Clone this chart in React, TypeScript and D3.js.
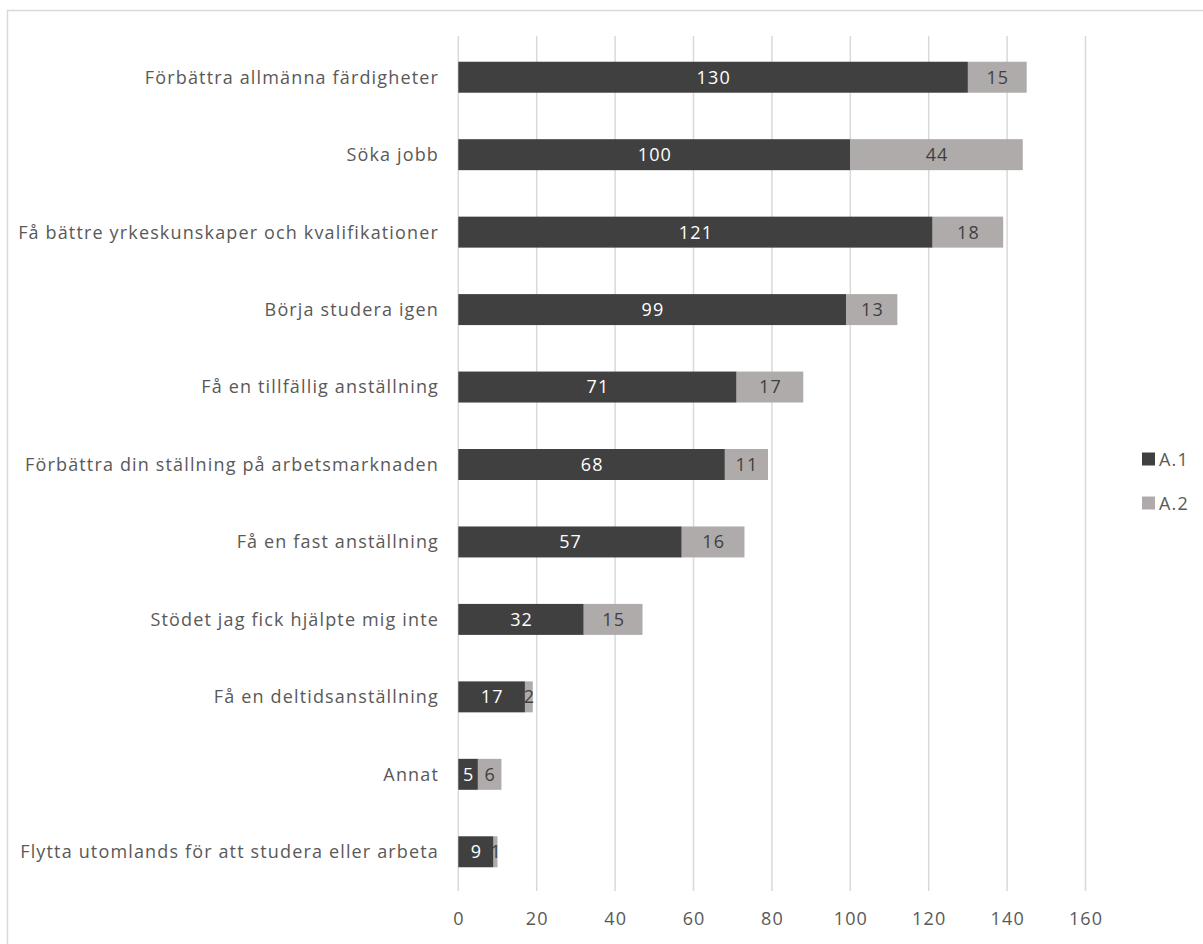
import React from "react";
import * as d3 from "d3";

const categories = [
  "Förbättra allmänna färdigheter",
  "Söka jobb",
  "Få bättre yrkeskunskaper och kvalifikationer",
  "Börja studera igen",
  "Få en tillfällig anställning",
  "Förbättra din ställning på arbetsmarknaden",
  "Få en fast anställning",
  "Stödet jag fick hjälpte mig inte",
  "Få en deltidsanställning",
  "Annat",
  "Flytta utomlands för att studera eller arbeta",
];
const seriesA1 = [130, 100, 121, 99, 71, 68, 57, 32, 17, 5, 9];
const seriesA2 = [15, 44, 18, 13, 17, 11, 16, 15, 2, 6, 1];
const seriesNames = ["A.1", "A.2"];
const xTicks = [0, 20, 40, 60, 80, 100, 120, 140, 160];

const W = 1203;
const H = 944;
const colors = ["#404040", "#AFABAB"];
const font = "'Open Sans', 'Liberation Sans', sans-serif";
const FS = 18;
const LS = 1.15;

export default function App() {
  const x = d3.scaleLinear().domain([0, 160]).range([458.3, 1085.5]);
  const y = d3
    .scaleBand<string>()
    .domain(categories)
    .range([38.5, 890.5])
    .paddingInner(0.6)
    .paddingOuter(0.3);

  const bh = y.bandwidth();
  const dy = 6.4;

  return (
    <svg
      width={W}
      height={H}
      style={{ position: "absolute", left: 0, top: 0, display: "block" }}
      fontFamily={font}
      letterSpacing={LS}
    >
      <rect x={0} y={0} width={W} height={H} fill="#fff" />
      <rect x={7.5} y={10.5} width={W + 20} height={H + 20} fill="none" stroke="#d9d9d9" strokeWidth={1.5} />
      {xTicks.map((t) => (
        <g key={t}>
          <line x1={x(t)} x2={x(t)} y1={36} y2={891} stroke="#d9d9d9" strokeWidth={1.5} />
          <text x={x(t) + LS / 2} y={925} textAnchor="middle" fontSize={FS} fill="#595959">
            {t}
          </text>
        </g>
      ))}
      {categories.map((c, i) => {
        const y0 = y(c)!;
        const a = seriesA1[i];
        const b = seriesA2[i];
        const cy = y0 + bh / 2;
        return (
          <g key={c}>
            <text x={439} y={cy + dy} textAnchor="end" fontSize={FS} fill="#595959">
              {c}
            </text>
            <rect x={x(0)} y={y0} width={x(a) - x(0)} height={bh} fill={colors[0]} />
            <rect x={x(a)} y={y0} width={x(a + b) - x(a)} height={bh} fill={colors[1]} />
            <text x={(x(0) + x(a)) / 2 + LS / 2} y={cy + dy} textAnchor="middle" fontSize={FS} fill="#ffffff">
              {a}
            </text>
            <text x={(x(a) + x(a + b)) / 2 + LS / 2} y={cy + dy} textAnchor="middle" fontSize={FS} fill="#404040">
              {b}
            </text>
          </g>
        );
      })}
      {seriesNames.map((s, i) => (
        <g key={s}>
          <rect x={1142} y={452.5 + i * 44} width={13} height={13} fill={colors[i]} />
          <text x={1159} y={465.5 + i * 44} fontSize={FS} fill="#595959">
            {s}
          </text>
        </g>
      ))}
    </svg>
  );
}
